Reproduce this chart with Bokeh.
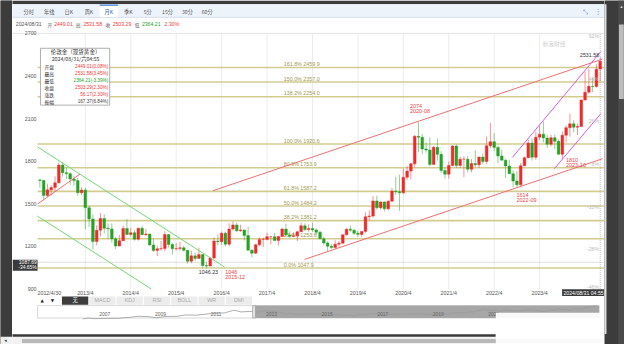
from bokeh.plotting import figure
from bokeh.layouts import row, column
from bokeh.models import Range1d, FixedTicker, ColumnDataSource
from bokeh.core.properties import value
from bokeh.embed import file_html
from bokeh.resources import INLINE

# ---------------- data: monthly London gold, 2012-04 .. 2024-08 ----------------
opens = [
    1668, 1664, 1558, 1598, 1614, 1648, 1773, 1719, 1712,
    1675, 1663, 1578, 1596, 1472, 1393, 1234, 1313, 1396, 1327, 1323, 1253,
    1202, 1240, 1326, 1284, 1296, 1250, 1327, 1282, 1287, 1210, 1171, 1183,
    1184, 1283, 1213, 1183, 1184, 1190, 1172, 1095, 1133, 1115, 1142, 1065,
    1061, 1118, 1238, 1233, 1293, 1215, 1322, 1351, 1309, 1316, 1277, 1173,
    1152, 1211, 1249, 1249, 1268, 1268, 1242, 1269, 1322, 1280, 1271, 1275,
    1303, 1345, 1318, 1325, 1316, 1299, 1253, 1224, 1201, 1192, 1215, 1222,
    1282, 1321, 1313, 1292, 1284, 1305, 1409, 1414, 1520, 1472, 1513, 1464,
    1517, 1589, 1585, 1577, 1687, 1730, 1781, 1975, 1968, 1886, 1879, 1776,
    1898, 1848, 1734, 1708, 1769, 1907, 1770, 1814, 1814, 1743, 1783, 1774,
    1829, 1797, 1909, 1937, 1897, 1837, 1807, 1766, 1711, 1660, 1633, 1768,
    1824, 1928, 1827, 1969, 1990, 1963, 1919, 1965, 1940, 1849, 1983, 2036,
    2063, 2039, 2044, 2230, 2286, 2327, 2326, 2449.01,
]
highs = [
    1677, 1670, 1641, 1631, 1693, 1790, 1796, 1755, 1723,
    1694, 1682, 1617, 1612, 1488, 1423, 1348, 1434, 1425, 1361, 1362, 1267,
    1280, 1345, 1392, 1331, 1315, 1332, 1345, 1322, 1288, 1255, 1205, 1238,
    1307, 1284, 1223, 1224, 1232, 1205, 1175, 1170, 1157, 1191, 1143, 1088,
    1124, 1263, 1282, 1304, 1303, 1362, 1375, 1367, 1352, 1317, 1338, 1180,
    1220, 1264, 1261, 1296, 1272, 1296, 1274, 1331, 1358, 1306, 1299, 1307,
    1366, 1361, 1356, 1366, 1326, 1309, 1266, 1235, 1214, 1243, 1237, 1284,
    1326, 1347, 1324, 1310, 1306, 1439, 1453, 1555, 1557, 1517, 1516, 1525,
    1611, 1689, 1704, 1748, 1765, 1789, 1984, 2075, 1992, 1933, 1966, 1907,
    1959, 1872, 1755, 1798, 1913, 1917, 1832, 1834, 1834, 1814, 1877, 1831,
    1853, 1974, 2070, 1998, 1910, 1879, 1814, 1808, 1735, 1730, 1787, 1833,
    1949, 1960, 2009, 2049, 2079, 1984, 1987, 1987, 1953, 2009, 2052, 2135,
    2088, 2065, 2236, 2431, 2450, 2388, 2483, 2531.58,
]
lows = [
    1613, 1527, 1547, 1556, 1585, 1643, 1693, 1672, 1635,
    1627, 1555, 1562, 1321, 1338, 1180, 1208, 1270, 1291, 1251, 1226, 1181,
    1202, 1238, 1277, 1268, 1240, 1240, 1280, 1272, 1204, 1160, 1131, 1170,
    1167, 1191, 1142, 1170, 1170, 1162, 1077, 1080, 1099, 1113, 1052, 1046.23,
    1061, 1110, 1208, 1212, 1199, 1200, 1310, 1300, 1302, 1241, 1171, 1123,
    1146, 1200, 1195, 1241, 1214, 1237, 1205, 1265, 1278, 1260, 1264, 1236,
    1302, 1307, 1303, 1302, 1282, 1250, 1211, 1160, 1180, 1183, 1196, 1221,
    1276, 1302, 1281, 1266, 1266, 1295, 1382, 1400, 1459, 1459, 1445, 1456,
    1517, 1563, 1451, 1568, 1670, 1671, 1758, 1863, 1849, 1860, 1764, 1775,
    1803, 1717, 1677, 1677, 1766, 1750, 1750, 1688, 1721, 1722, 1758, 1753,
    1780, 1781, 1890, 1872, 1787, 1805, 1681, 1709, 1614, 1617, 1616, 1765,
    1824, 1804, 1810, 1949, 1932, 1893, 1903, 1885, 1846, 1810, 1931, 1973,
    2002, 1984, 2039, 2229, 2277, 2286, 2318, 2364.21,
]
closes = [
    1664, 1558, 1598, 1614, 1648, 1773, 1719, 1712, 1675,
    1663, 1578, 1596, 1472, 1393, 1234, 1313, 1396, 1327, 1323, 1253, 1202,
    1240, 1326, 1284, 1296, 1250, 1327, 1282, 1287, 1210, 1171, 1183, 1184,
    1283, 1213, 1183, 1184, 1190, 1172, 1095, 1133, 1115, 1142, 1065, 1061,
    1118, 1238, 1233, 1293, 1215, 1322, 1351, 1309, 1316, 1277, 1173, 1152,
    1211, 1249, 1249, 1268, 1268, 1242, 1269, 1322, 1280, 1271, 1275, 1303,
    1345, 1318, 1325, 1316, 1299, 1253, 1224, 1201, 1192, 1215, 1222, 1282,
    1321, 1313, 1292, 1284, 1305, 1409, 1414, 1520, 1472, 1513, 1464, 1517,
    1589, 1585, 1577, 1687, 1730, 1781, 1975, 1968, 1886, 1879, 1776, 1898,
    1848, 1734, 1708, 1769, 1907, 1770, 1814, 1814, 1743, 1783, 1774, 1829,
    1797, 1909, 1937, 1897, 1837, 1807, 1766, 1711, 1660, 1633, 1768, 1824,
    1928, 1827, 1969, 1990, 1963, 1919, 1965, 1940, 1849, 1983, 2036, 2063,
    2039, 2044, 2230, 2286, 2327, 2326, 2447, 2503.29,
]
first_year, first_month = 2012, 4          # month index 0 = 2012-04

price_ticks = [900, 1200, 1500, 1800, 2100, 2400, 2700]
pct_tick_labels = ["-46%", "-28%", "-10%", "8%", "26%", "44%", "62%"]
year_tick_months = [12, 24, 36, 48, 60, 72, 84, 96, 108, 120, 132]
year_tick_labels = ["2013/4", "2014/4", "2015/4", "2016/4", "2017/4", "2018/4",
                    "2019/4", "2020/4", "2021/4", "2022/4", "2023/4"]
first_tick_label = "2012/4/30"

fib_pcts = ["0.0%", "23.6%", "38.2%", "50.0%", "61.8%", "80.9%", "100.0%", "138.2%", "150.0%", "161.8%"]
fib_levels = [1047.9, 1253.6, 1381.2, 1484.2, 1587.2, 1753.9, 1920.6, 2254.0, 2357.0, 2459.9]

# trend lines drawn on the chart: [month0, price0, month1, price1]
green_upper = [-0.62, 1900, 48.8, 1054]
green_lower = [-0.62, 1413, 29.4, 900]
red_short = [-0.62, 1498, 10.6, 1709]
red_upper = [45.7, 1592, 148.6, 2519]
red_lower = [69.9, 1108, 148.6, 1817]
violet_upper = [124.8, 1826, 148.2, 2573]
violet_lower = [135.9, 1747, 148.2, 2135]

# marked extremes
ext_months = [100, 125, 138, 44]
ext_prices = [2074, 1614, 1810, 1046]
ext_values = ["2074", "1614", "1810", "1046"]
ext_dates = ["2020-08", "2022-09", "2023-10", "2015-12"]
range_high_month, range_high = 148, 2531.58
range_low_month, range_low = 44, 1046.23

cross_month, cross_price, cross_pct = 148, 1087.69, "-34.65%"
last_stamp = "2024/08/31 04:55"

tip_title = "伦敦金（现货黄金）"
tip_time = "2024/08/31/六04:55"
tip_names = ["开盘", "最高", "最低", "收盘", "涨跌", "振幅"]
tip_values = ["2449.01(0.08%)", "2531.58(3.45%)", "2364.21(-3.39%)", "2503.29(2.30%)", "56.17(2.30%)", "167.37(6.84%)"]

toolbar_items = ["分时", "年线", "日K", "周K", "月K", "季K", "5分", "15分", "30分", "60分"]
info_items = ["2024/08/31", "开", "2449.01", "高", "2531.58", "收", "2503.29", "低", "2364.21", "2.30%"]
tab_items = ["MACD", "KDJ", "RSI", "BOLL", "WR", "DMI"]

nav_label_years = [2007, 2009, 2011, 2013, 2015, 2017, 2019, 2021]
nav_early_years = [2006.2, 2006.4, 2006.6, 2007.0, 2007.5, 2007.9, 2008.2, 2008.6, 2008.85,
                   2009.2, 2009.6, 2009.9, 2010.3, 2010.9, 2011.3, 2011.65, 2011.9, 2012.2]
nav_early_prices = [560, 690, 600, 640, 660, 800, 960, 900, 730,
                    930, 950, 1150, 1120, 1400, 1450, 1850, 1600, 1670]

# ---------------- styling / layout ----------------
RED = "#f03a3a"
GREEN = "#1f9d1f"
C_UP = "#ec2b2b"
C_DN = "#27a127"
FIB = "#d3cc90"
FIB_TXT = "#a09850"
GREY = "#555555"
DARK = "#3c3c3c"
LAT = "Liberation Sans"
CJK = "Noto Sans CJK SC"

# whole picture (640x360 reference pixels) squeezed into the 624x344 canvas
SX, SY = 624 / 640, 344 / 360

# reference-pixel geometry of the main chart
X0_PX, PX_PER_MONTH = 40.4, 3.883
Y2700_PX, PRICE_PER_PX = 34.4, 6.73
CHART_L = 38.0          # left edge of the plotting body (reference px)


def sx2m(sx):
    return (sx - X0_PX) / PX_PER_MONTH


def sy2p(sy):
    return 2700 - (sy - Y2700_PX) * PRICE_PER_PX


def fs(px):
    return f"{px * SY:.2f}px"


def gtext(fig, xs, ys, texts, colors, size, font, align="left", baseline="middle",
          dx=0, dy=0, **kw):
    if isinstance(colors, str):
        colors = [colors] * len(texts)
    src = ColumnDataSource(dict(x=list(xs), y=list(ys), t=list(texts), c=list(colors)))
    return fig.text(x="x", y="y", text="t", text_color="c", source=src,
                    text_font=value(font), text_font_size=fs(size), text_align=align,
                    text_baseline=baseline, x_offset=dx * SX, y_offset=dy * SY, **kw)


def ref_fig(w, h, cx0, cy0, bg="white"):
    """figure whose ranges are expressed in reference pixels (canvas origin cx0, cy0)"""
    f = figure(width=w, height=h,
               x_range=Range1d(cx0 / SX, (cx0 + w) / SX),
               y_range=Range1d((cy0 + h) / SY, cy0 / SY),
               x_axis_location=None, y_axis_location=None, min_border=0,
               toolbar_location=None, output_backend="svg", outline_line_color=None,
               background_fill_color=bg, border_fill_color=bg)
    f.grid.visible = False
    return f


def box(fig, l, r, t, b, color, **kw):
    fig.quad(left=[l], right=[r], top=[t], bottom=[b], fill_color=color,
             line_color=kw.pop("line_color", None), **kw)


# canvas partition
LW, CW, RW = 12, 592, 20
TOP_H, MAIN_H, BOT_H = 29, 267, 48

# ---------------- top bar ----------------
top = ref_fig(CW, TOP_H, LW, 0)
box(top, 0, 640, 0, 4, DARK)
box(top, 0, 640, 4, 17.3, "#edf3fb")
top.segment(x0=[0], y0=[17.6], x1=[640], y1=[17.6], line_color="#d4deec", line_width=1)
box(top, 101.7, 120.7, 4, 17.3, "white")
box(top, 101.7, 120.7, 4.3, 5.6, "#3b7be0")
tb_x = [29, 50, 70, 90.7, 111, 131, 151, 171.3, 191.7, 212]
tb_col = [GREY] * len(toolbar_items)
tb_col[4] = "#2b5fb5"
gtext(top, tb_x, [11] * len(tb_x), toolbar_items, tb_col, 5.4, CJK, align="center")
gtext(top, [613], [11], ["⋮"], "#3a78d8", 7.5, "DejaVu Sans", align="center")
gtext(top, [600], [11], ["⤡"], "#3a78d8", 6.5, "DejaVu Sans", align="center")
info_x = [15.7, 48.3, 55, 77.3, 85, 107.7, 115, 137.7, 145, 168.3]
info_col = [GREY, GREY, RED, GREY, RED, GREY, RED, GREY, GREEN, RED]
lat_idx = [0, 2, 4, 6, 8, 9]
cjk_idx = [1, 3, 5, 7]
gtext(top, [info_x[i] for i in lat_idx], [24.7] * len(lat_idx), [info_items[i] for i in lat_idx],
      [info_col[i] for i in lat_idx], 5.4, LAT)
gtext(top, [info_x[i] for i in cjk_idx], [24.7] * len(cjk_idx), [info_items[i] for i in cjk_idx],
      [info_col[i] for i in cjk_idx], 5.1, CJK)

# ---------------- main chart ----------------
frame_l = LW / SX
frame_r = (LW + CW) / SX
frame_t = TOP_H / SY
frame_b = (TOP_H + MAIN_H) / SY
x_lo, x_hi = sx2m(CHART_L), sx2m(frame_r)

p = figure(width=CW, height=MAIN_H, x_range=Range1d(sx2m(frame_l), x_hi),
           y_range=Range1d(sy2p(frame_b), sy2p(frame_t)), output_backend="svg",
           toolbar_location=None, min_border=0, outline_line_color=None,
           background_fill_color="white", border_fill_color="white")
p.grid.visible = False

p.yaxis.fixed_location = x_lo
p.yaxis.ticker = FixedTicker(ticks=price_ticks)
p.yaxis.major_label_text_font = LAT
p.yaxis.major_label_text_font_size = fs(5.5)
p.yaxis.major_label_text_color = GREY
p.yaxis.axis_line_color = None
p.yaxis.major_tick_line_color = None
p.yaxis.minor_tick_line_color = None
p.yaxis.major_tick_out = 0
p.yaxis.major_label_standoff = 1

first_label_pos = 2.5
p.xaxis.fixed_location = 900
p.xaxis.ticker = FixedTicker(ticks=[first_label_pos] + year_tick_months)
overrides = {first_label_pos: first_tick_label}
overrides.update({m: s for m, s in zip(year_tick_months, year_tick_labels)})
p.xaxis.major_label_overrides = overrides
p.xaxis.major_label_text_font = LAT
p.xaxis.major_label_text_font_size = fs(5.6)
p.xaxis.major_label_text_color = GREY
p.xaxis.axis_line_color = None
p.xaxis.major_tick_line_color = None
p.xaxis.minor_tick_line_color = None
p.xaxis.major_tick_out = 0
p.xaxis.major_label_standoff = 1

# vertical grid and the chart's top border
ny = len(year_tick_months)
p.segment(x0=year_tick_months, x1=year_tick_months, y0=[900] * ny, y1=[2700] * ny,
          line_color="#ececec", line_width=1, level="underlay")
p.segment(x0=[sx2m(frame_l)], x1=[x_hi], y0=[2700], y1=[2700], line_color="#e4e4e4",
          line_width=1, level="underlay")

# fibonacci levels
nf = len(fib_levels)
p.segment(x0=[x_lo] * nf, x1=[x_hi] * nf, y0=fib_levels, y1=fib_levels,
          line_color=FIB, line_width=1.6, level="underlay")
gtext(p, [sx2m(290.5)] * nf, fib_levels,
      [f"{a} {b:.1f}" for a, b in zip(fib_pcts, fib_levels)], FIB_TXT, 5.6, LAT,
      baseline="bottom", dy=-0.3)

# crosshair
p.segment(x0=[x_lo], x1=[x_hi], y0=[cross_price], y1=[cross_price], line_color="#b0b0b0",
          line_width=0.8, line_dash="1 1", level="underlay")
p.segment(x0=[cross_month], x1=[cross_month], y0=[900], y1=[2700], line_color="#b0b0b0",
          line_width=0.8, line_dash="1 1", level="underlay")

# candles
months = list(range(len(opens)))
colors = [C_UP if c >= o else C_DN for o, c in zip(opens, closes)]
csrc = ColumnDataSource(dict(
    x=months, h=highs, l=lows,
    top=[max(o, c) for o, c in zip(opens, closes)],
    bot=[min(o, c) for o, c in zip(opens, closes)],
    col=colors))
p.segment(x0="x", y0="h", x1="x", y1="l", line_color="col", line_alpha=0.5, line_width=1, source=csrc)
p.vbar(x="x", width=0.72, top="top", bottom="bot", fill_color="col", line_color="col",
       line_width=0.4, source=csrc)

# trend lines
for seg, col in [(green_upper, "#74d874"), (green_lower, "#74d874"), (red_short, "#f07070"),
                 (red_upper, "#f07070"), (red_lower, "#f07070"),
                 (violet_upper, "#d35de6"), (violet_lower, "#d35de6")]:
    p.line(x=[seg[0], seg[2]], y=[seg[1], seg[3]], line_color=col, line_width=1)

# right-side percentage labels
pct_dy = [-2.5, 3, 3, 3, 3, 3, 2.3]
psrc = ColumnDataSource(dict(x=[x_hi] * len(price_ticks), y=price_ticks,
                             t=pct_tick_labels, dy=[d * SY for d in pct_dy]))
p.text(x="x", y="y", text="t", y_offset="dy", x_offset=-5.5 * SX, source=psrc, text_align="right",
       text_baseline="middle", text_color="#bdbdbd", text_font=value(LAT), text_font_size=fs(5.5))

# watermark
gtext(p, [sx2m(556)], [sy2p(45.5)], ["新浪财经"], "#cfcfcf", 6, CJK)

# extremes labels
ext_dx = [-8.7, 3.5, 3.7, 19.2]
ext_dy = [-17.4, 7.5, 0.0, 3.8]
esrc = ColumnDataSource(dict(x=ext_months + ext_months, y=ext_prices + ext_prices,
                             t=ext_values + ext_dates,
                             dx=[d * SX for d in ext_dx + ext_dx],
                             dy=[d * SY for d in ext_dy + [d + 5.9 for d in ext_dy]]))
p.text(x="x", y="y", text="t", x_offset="dx", y_offset="dy", source=esrc, text_align="left",
       text_baseline="middle", text_color="#e84545", text_font=value(LAT), text_font_size=fs(5.7))
gtext(p, [range_high_month], [range_high], [f"{range_high:.2f}"], "#333333", 5.6, LAT,
      align="right", baseline="bottom", dx=-1, dy=-0.5)
gtext(p, [range_low_month], [range_low], [f"{range_low:.2f}"], "#333333", 5.6, LAT,
      align="center", baseline="top", dx=2, dy=1.5)

# crosshair value tags (left price tag, bottom time tag)
p.quad(left=[sx2m(frame_l)], right=[x_lo], top=[sy2p(271.2)], bottom=[sy2p(282.8)],
       fill_color="#3a3a3a", line_color=None)
tag_src = ColumnDataSource(dict(x=[x_lo, x_lo], y=[cross_price, cross_price],
                                t=[f"{cross_price:.2f}", cross_pct],
                                dy=[-0.3 * SY, 5.4 * SY]))
p.text(x="x", y="y", text="t", y_offset="dy", x_offset=-0.8 * SX, source=tag_src,
       text_align="right", text_baseline="middle", text_color="white",
       text_font=value(LAT), text_font_size=fs(5.2))
p.quad(left=[sx2m(576)], right=[x_hi], top=[sy2p(302.3)], bottom=[sy2p(309.6)],
       fill_color="#3a3a3a", line_color=None)
gtext(p, [sx2m(598)], [sy2p(305.8)], [last_stamp], "white", 5.4, LAT, align="center")

# tooltip box
p.quad(left=[sx2m(41)], right=[sx2m(112)], top=[sy2p(50)], bottom=[sy2p(109.5)],
       fill_color="white", line_color="#9a9a9a", line_width=0.8)
gtext(p, [sx2m(77)], [sy2p(53.6)], [tip_title], "#333333", 5.8, CJK, align="center")
gtext(p, [sx2m(77)], [sy2p(61)], [tip_time], "#333333", 5.5, CJK, align="center")
row_y = [69.3, 76.7, 84.0, 91.3, 98.6, 106.0]
gtext(p, [sx2m(45)] * 6, [sy2p(y) for y in row_y], tip_names, "#333333", 5.0, CJK)
gtext(p, [sx2m(110.5)] * 6, [sy2p(y) for y in row_y], tip_values,
      [RED, RED, GREEN, RED, RED, "#444444"], 4.9, LAT, align="right")

# ---------------- bottom strip: tabs + navigator ----------------
bot = ref_fig(CW, BOT_H, LW, TOP_H + MAIN_H)
gtext(bot, [42.7, 53.3], [313.7, 313.7], ["▲", "▼"], "#222222", 4.6, "DejaVu Sans", align="center")
box(bot, 63, 90, 309, 318.3, "#3d3d3d")
gtext(bot, [76.5], [313.7], ["无"], "white", 5.6, CJK, align="center")
tab_left = [91, 119, 147, 175, 203, 231]
bot.quad(left=tab_left, right=[t + 27 for t in tab_left], top=[309] * 6, bottom=[318.3] * 6,
         fill_color="#ececec", line_color=None)
gtext(bot, [t + 13.5 for t in tab_left], [313.7] * 6, tab_items, "#aaaaaa", 5.6, LAT, align="center")

box(bot, 38, 614, 319.3, 332.3, "white", line_color="#cfcfcf", line_width=0.8)
box(bot, 261, 614, 319.3, 332.3, "#a6a6a6")

NAV_X2007, NAV_PX_PER_YEAR = 107.0, 28.5        # reference pixels
NAV_Y600, NAV_PX_PER_PRICE = 333.0, 13.5 / 1900
xr0, xr1 = bot.x_range.start, bot.x_range.end
yr_bot, yr_top = bot.y_range.start, bot.y_range.end
bot.extra_x_ranges = {"nav": Range1d(2007 + (xr0 - NAV_X2007) / NAV_PX_PER_YEAR,
                                     2007 + (xr1 - NAV_X2007) / NAV_PX_PER_YEAR)}
bot.extra_y_ranges = {"navp": Range1d(600 - (yr_bot - NAV_Y600) / NAV_PX_PER_PRICE,
                                      600 - (yr_top - NAV_Y600) / NAV_PX_PER_PRICE)}
nav_x = nav_early_years + [first_year + (first_month + m) / 12 for m in months]
nav_p = nav_early_prices + closes
bot.line(x=nav_x, y=nav_p, x_range_name="nav", y_range_name="navp", line_color="#9a9a9a",
         line_width=0.8)
box(bot, 258.5, 261.5, 319.3, 332.3, "#e2e2e2", line_color="#999999", line_width=0.6)
nsrc = ColumnDataSource(dict(x=nav_label_years, y=[328] * len(nav_label_years),
                             t=[str(y) for y in nav_label_years]))
bot.text(x="x", y="y", text="t", source=nsrc, x_range_name="nav", text_align="center",
         text_baseline="middle", text_color="#666666", text_font=value(LAT), text_font_size=fs(5.2))
box(bot, 0, 640, 352, 360, "#f1f1f1")
box(bot, 22, 640, 354.3, 358.3, "#b9b9b9")
box(bot, 0, 508, 349.3, 352, "#3a3a3a")
box(bot, 508, 640, 326.7, 360, "white", fill_alpha=0.93)

# ---------------- dark window edges ----------------
left_strip = ref_fig(LW, 344, 0, 0, bg=DARK)
box(left_strip, 0, 12.5, 0, 352, DARK)
box(left_strip, 0, 12.5, 352, 360, "#f1f1f1")
gtext(left_strip, [5], [356.3], ["◂"], "#333333", 5, "DejaVu Sans", align="center")

right_strip = ref_fig(RW, 344, LW + CW, 0, bg=DARK)
box(right_strip, 619, 621.5, 4, 349, "#dedede")
box(right_strip, 633.5, 640, 0, 360, "#4a4a4a")
box(right_strip, 634.3, 639.3, 25, 103, "#bdbdbd")
gtext(right_strip, [636.8], [6], ["▴"], "#cccccc", 5, "DejaVu Sans", align="center")

layout = row(left_strip, column(top, p, bot, spacing=0), right_strip, spacing=0)
open("out.html", "w").write(file_html(layout, INLINE, "伦敦金"))
